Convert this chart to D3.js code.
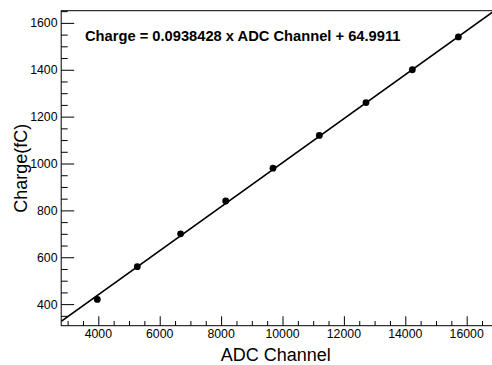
<!DOCTYPE html>
<html>
<head>
<meta charset="utf-8">
<script src="https://cdn.jsdelivr.net/npm/d3@7"></script>
<style>
  html, body { margin: 0; padding: 0; background: #fff; }
  svg { display: block; font-family: "Liberation Sans", Arial, Helvetica, sans-serif; }
</style>
</head>
<body>
<div id="chart"></div>
<script>
// calibration points (ADC channel vs injected charge)
const adcChannel = [3967, 5270, 6680, 8150, 9690, 11200, 12720, 14230, 15730];
const charge = [420, 560, 700, 840, 980, 1120, 1260, 1400, 1540];
// fit result shown on the plot
const fitSlope = 0.0938428;
const fitOffset = 64.9911;
const xTickValues = [4000, 6000, 8000, 10000, 12000, 14000, 16000];
const yTickValues = [400, 600, 800, 1000, 1200, 1400, 1600];

const width = 492;
const height = 365;
const frame = { left: 61.2, top: 10.7, right: 494.5, bottom: 325.7 };

const svg = d3.select("#chart")
  .append("svg")
  .attr("width", width)
  .attr("height", height);

// ROOT style range: data extent padded by 10%
const xExt = d3.extent(adcChannel);
const yExt = d3.extent(charge);
const xPad = (xExt[1] - xExt[0]) * 0.1;
const yPad = (yExt[1] - yExt[0]) * 0.1;

const x = d3.scaleLinear()
  .domain([xExt[0] - xPad, xExt[1] + xPad])
  .range([frame.left, frame.right]);
const y = d3.scaleLinear()
  .domain([yExt[0] - yPad, yExt[1] + yPad])
  .range([frame.bottom, frame.top]);

const fw = frame.right - frame.left;
const fh = frame.bottom - frame.top;

// frame
svg.append("rect")
  .attr("x", frame.left)
  .attr("y", frame.top)
  .attr("width", fw)
  .attr("height", fh)
  .attr("fill", "none")
  .attr("stroke", "#000")
  .attr("stroke-width", 1);

// minor ticks
const xMinor = d3.range(3000, 17000, 500).filter(v => !xTickValues.includes(v) && v >= x.domain()[0] && v <= x.domain()[1]);
const yMinor = d3.range(350, 1700, 50).filter(v => !yTickValues.includes(v) && v >= y.domain()[0] && v <= y.domain()[1]);

const xAxis = svg.append("g")
  .attr("transform", `translate(0,${frame.bottom})`);
xAxis.call(d3.axisTop(x).tickValues(xMinor).tickSize(fh * 0.015).tickFormat(""));
xAxis.call(g => g.select(".domain").remove());
const xMajor = svg.append("g")
  .attr("transform", `translate(0,${frame.bottom})`)
  .call(d3.axisTop(x).tickValues(xTickValues).tickSize(fh * 0.03).tickFormat(""));
xMajor.select(".domain").remove();

svg.append("g")
  .selectAll("text")
  .data(xTickValues)
  .enter()
  .append("text")
  .attr("x", d => x(d))
  .attr("y", 338)
  .attr("text-anchor", "middle")
  .style("font-size", "12.3px")
  .text(d => d);

const yAxis = svg.append("g")
  .attr("transform", `translate(${frame.left},0)`)
  .call(d3.axisRight(y).tickValues(yMinor).tickSize(fw * 0.015).tickFormat(""));
yAxis.select(".domain").remove();
const yMajor = svg.append("g")
  .attr("transform", `translate(${frame.left},0)`)
  .call(d3.axisRight(y).tickValues(yTickValues).tickSize(fw * 0.03).tickFormat(""));
yMajor.select(".domain").remove();

svg.append("g")
  .selectAll("text")
  .data(yTickValues)
  .enter()
  .append("text")
  .attr("x", 57.5)
  .attr("y", d => y(d))
  .attr("dy", "0.36em")
  .attr("text-anchor", "end")
  .style("font-size", "12.3px")
  .text(d => d);

svg.selectAll(".tick line").attr("stroke", "#000").attr("stroke-width", 1);

// fit line, clipped to frame
svg.append("clipPath")
  .attr("id", "frameClip")
  .append("rect")
  .attr("x", frame.left)
  .attr("y", frame.top)
  .attr("width", fw)
  .attr("height", fh);

const fitX = x.domain();
svg.append("line")
  .attr("clip-path", "url(#frameClip)")
  .attr("x1", x(fitX[0]))
  .attr("y1", y(fitSlope * fitX[0] + fitOffset))
  .attr("x2", x(fitX[1]))
  .attr("y2", y(fitSlope * fitX[1] + fitOffset))
  .attr("stroke", "#000")
  .attr("stroke-width", 1.6);

// points
svg.selectAll("circle.pt")
  .data(adcChannel)
  .enter()
  .append("circle")
  .attr("class", "pt")
  .attr("cx", d => x(d))
  .attr("cy", (d, i) => y(charge[i]))
  .attr("r", 3.4)
  .attr("fill", "#000");

// equation label
svg.append("text")
  .attr("x", 85)
  .attr("y", 41)
  .style("font-size", "14.7px")
  .style("font-weight", "bold")
  .text(`Charge = ${fitSlope} x ADC Channel + ${fitOffset}`);

// axis titles
svg.append("text")
  .attr("x", (frame.left + frame.right) / 2 - 2)
  .attr("y", 360.5)
  .attr("text-anchor", "middle")
  .style("font-size", "18px")
  .text("ADC Channel");

svg.append("text")
  .attr("transform", `translate(26.5,${(frame.top + frame.bottom) / 2}) rotate(-90)`)
  .attr("text-anchor", "middle")
  .style("font-size", "18px")
  .text("Charge(fC)");
</script>
</body>
</html>
